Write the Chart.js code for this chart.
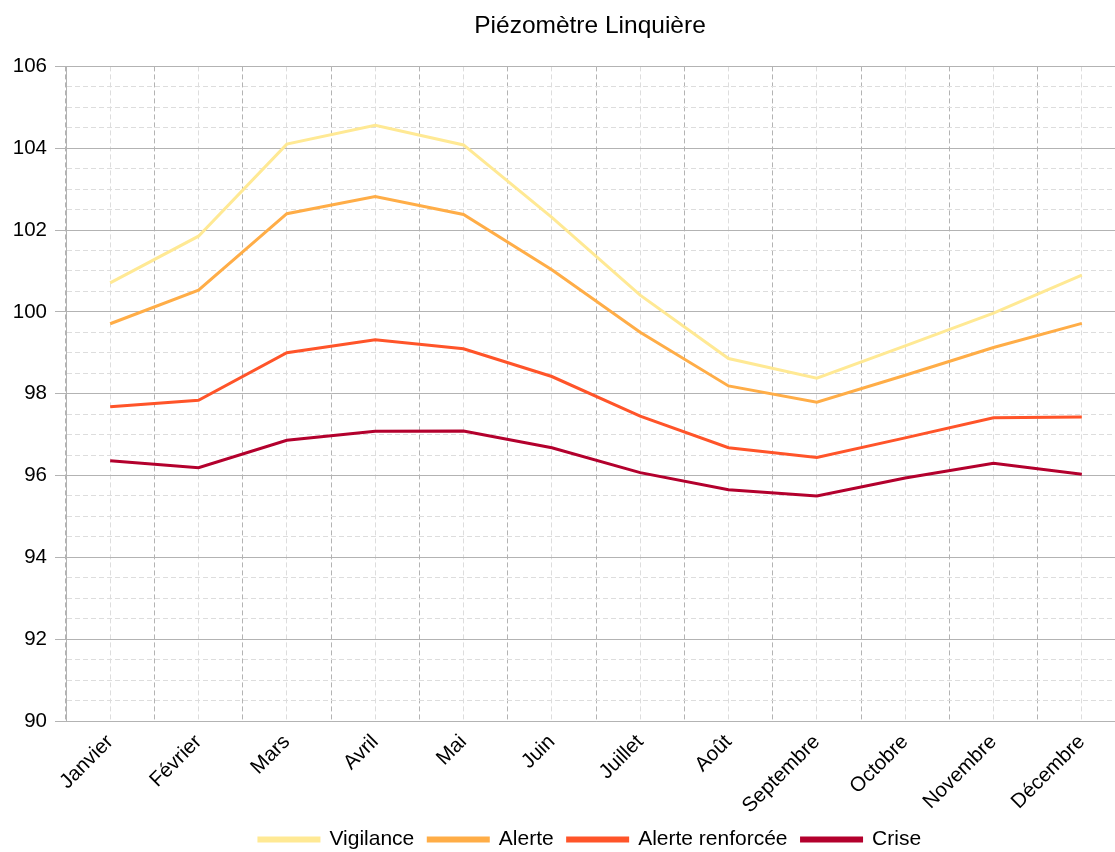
<!DOCTYPE html>
<html lang="fr">
<head>
<meta charset="utf-8">
<title>Piézomètre Linquière</title>
<script src="https://cdn.jsdelivr.net/npm/chart.js@4.4.1/dist/chart.umd.min.js"></script>
<style>
  html, body {
    margin: 0;
    padding: 0;
    background: #ffffff;
    overflow: hidden;
  }
  #wrap {
    width: 1180px;
    height: 852px;
  }
</style>
</head>
<body>
<div id="wrap">
  <canvas id="piezoChart" width="1180" height="852"></canvas>
</div>
<script>
const months = ["Janvier", "Février", "Mars", "Avril", "Mai", "Juin", "Juillet", "Août", "Septembre", "Octobre", "Novembre", "Décembre"];

// seuils mensuels (m NGF)
const vigilance = [100.71, 101.85, 104.10, 104.56, 104.08, 102.31, 100.41, 98.86, 98.38, 99.17, 99.97, 100.90];
const alerte = [99.71, 100.53, 102.40, 102.82, 102.38, 101.03, 99.50, 98.19, 97.79, 98.45, 99.13, 99.72];
const alerteRenforcee = [97.68, 97.84, 99.00, 99.32, 99.10, 98.42, 97.45, 96.68, 96.44, 96.92, 97.41, 97.43];
const crise = [96.36, 96.19, 96.86, 97.08, 97.09, 96.68, 96.07, 95.65, 95.50, 95.94, 96.30, 96.03];

const yMin = 90;
const yMax = 106;

window.addEventListener("DOMContentLoaded", () => {
  const textFont = "'Liberation Sans', Arial, sans-serif";
  const isMajor = (value) => value % 2 === 0;
  const isMinorTick = (ctx) => ctx.tick !== undefined && !isMajor(ctx.tick.value);

  const makeLine = (label, values, color) => {
    return {
      label: label,
      data: values,
      borderColor: color,
      backgroundColor: color,
      borderWidth: 3,
      pointRadius: 0,
      pointHoverRadius: 0,
      tension: 0,
      xAxisID: "x",
      yAxisID: "y",
    };
  };

  const data = {
    labels: months,
    datasets: [
      makeLine("Vigilance", vigilance, "#ffe994"),
      makeLine("Alerte", alerte, "#ffad47"),
      makeLine("Alerte renforcée", alerteRenforcee, "#ff5429"),
      makeLine("Crise", crise, "#b3002d"),
    ],
  };

  const config = {
    type: "line",
    data: data,
    options: {
      responsive: false,
      animation: false,
      layout: {
        padding: { left: 0, right: 0, top: 8, bottom: -8 },
      },
      plugins: {
        title: {
          display: true,
          text: "Piézomètre Linquière",
          color: "#000000",
          font: { family: textFont, size: 24.5, weight: "normal" },
          padding: { top: 4, bottom: 25 },
        },
        legend: {
          position: "bottom",
          labels: {
            color: "#000000",
            font: { family: textFont, size: 21 },
            boxWidth: 60,
            boxHeight: 3,
            padding: 14,
          },
        },
        tooltip: { enabled: false },
      },
      scales: {
        x: {
          type: "category",
          offset: true,
          afterFit: (scale) => {
            scale.height = 94;
          },
          grid: {
            offset: true,
            color: "#b3b3b3",
            lineWidth: 1,
            drawTicks: false,
          },
          border: { display: true, color: "#b3b3b3", dash: [5, 3] },
          ticks: {
            color: "#000000",
            font: { family: textFont, size: 20.5 },
            minRotation: 45,
            maxRotation: 45,
            autoSkip: false,
            padding: 9,
          },
        },
        // lignes pointillées au droit de chaque mois
        xMid: {
          type: "category",
          position: "bottom",
          offset: true,
          grid: {
            offset: false,
            color: "#dddddd",
            lineWidth: 1,
            drawTicks: false,
          },
          border: { display: false, dash: [5, 3] },
          ticks: { display: false },
        },
        y: {
          type: "linear",
          min: yMin,
          max: yMax,
          afterFit: (scale) => {
            scale.width = 66;
          },
          grid: {
            color: (ctx) => (isMinorTick(ctx) ? "#dddddd" : "#b3b3b3"),
            tickColor: (ctx) => (isMinorTick(ctx) ? "rgba(0,0,0,0)" : "#b3b3b3"),
            lineWidth: 1,
            tickLength: 11,
          },
          border: {
            display: true,
            color: "#b3b3b3",
            dash: (ctx) => (isMinorTick(ctx) ? [5, 3] : []),
          },
          ticks: {
            stepSize: 0.5,
            maxTicksLimit: 50,
            autoSkip: false,
            color: "#000000",
            font: { family: textFont, size: 20.5 },
            padding: 8,
            callback: (value) => (isMajor(value) ? value : ""),
          },
        },
        // marge droite : la zone de tracé continue au-delà du cadre
        yRight: {
          type: "linear",
          position: "right",
          afterFit: (scale) => {
            scale.width = 54;
          },
          grid: { drawOnChartArea: false, drawTicks: false },
          border: { display: false },
          ticks: { display: false },
        },
      },
    },
  };

  const ctx = document.getElementById("piezoChart").getContext("2d");
  const piezoChart = new Chart(ctx, config);
});
</script>
</body>
</html>
